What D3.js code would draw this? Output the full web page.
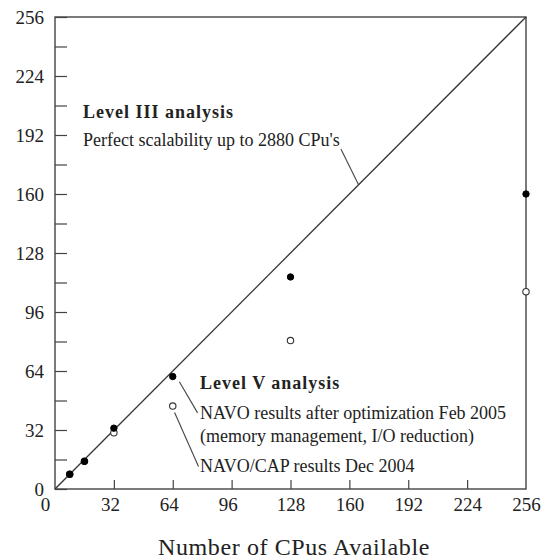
<!DOCTYPE html>
<html><head><meta charset="utf-8">
<script src="https://cdn.jsdelivr.net/npm/d3@7"></script>
<style>body{margin:0;background:#fff}</style>
</head><body>
<script>
const cpus = [8, 16, 32, 64, 128, 256];
const optimizedFeb2005 = [8, 15, 33, 61, 115, 160];
const capDec2004 = [8, 15, 30.5, 45, 80.5, 107];
const xTicks = [0, 32, 64, 96, 128, 160, 192, 224, 256];
const yTicks = [0, 32, 64, 96, 128, 160, 192, 224, 256];
const yMinorTicks = [16, 48, 80, 112, 144, 176, 208, 240];
const xTitle = "Number of CPus Available";

const W = 543, H = 560;
const svg = d3.select("body").append("svg").attr("width", W).attr("height", H);
const x = d3.scaleLinear().domain([0, 256]).range([55, 526]);
const y = d3.scaleLinear().domain([0, 256]).range([489, 17]);
const font = "'Liberation Serif', serif";
const ink = "#222";

// frame
svg.append("rect").attr("x", x(0)).attr("y", y(256)).attr("width", x(256) - x(0)).attr("height", y(0) - y(256))
  .attr("fill", "none").attr("stroke", "#444").attr("stroke-width", 1.4);

// y ticks
const gy = svg.append("g").attr("transform", `translate(${x(0)},0)`)
  .call(d3.axisRight(y).tickValues(yTicks.concat(yMinorTicks)).tickSize(12).tickFormat(""));
gy.select(".domain").remove();
gy.selectAll("line").attr("stroke", "#444").attr("stroke-width", 1.2);
const gyl = svg.append("g").attr("transform", `translate(${x(0)},0)`)
  .call(d3.axisLeft(y).tickValues(yTicks).tickSize(0).tickPadding(11));
gyl.select(".domain").remove();
gyl.selectAll("text").attr("font-family", font).attr("font-size", 19).attr("fill", ink);

// x ticks
const gx = svg.append("g").attr("transform", `translate(0,${y(0)})`)
  .call(d3.axisTop(x).tickValues(xTicks.slice(1, -1)).tickSize(9).tickFormat(""));
gx.select(".domain").remove();
gx.selectAll("line").attr("stroke", "#444").attr("stroke-width", 1.2);
const gxl = svg.append("g").attr("transform", `translate(0,${y(0)})`)
  .call(d3.axisBottom(x).tickValues(xTicks).tickSize(0).tickPadding(9));
gxl.select(".domain").remove();
gxl.selectAll("text").attr("font-family", font).attr("font-size", 19).attr("fill", ink)
  .attr("dx", d => d === 0 ? -10 : (d < 128 ? -4 : 0));

// axis title
svg.append("text").attr("x", 294).attr("y", 555).attr("text-anchor", "middle")
  .attr("font-family", font).attr("font-size", 24).attr("letter-spacing", 0.6).attr("fill", ink).text(xTitle);

// perfect scalability line
const line = d3.line().x(d => x(d)).y(d => y(d));
svg.append("path").attr("d", line([0, 256])).attr("fill", "none").attr("stroke", "#333").attr("stroke-width", 1.3);

// leader lines
const leaders = [
  [[155.4, 184.4], [165, 165]],
  [[67.6, 58.2], [77.5, 41.3]],
  [[65, 41.5], [78, 12.2]]
];
leaders.forEach(l => svg.append("path").attr("d", d3.line().x(d => x(d[0])).y(d => y(d[1]))(l))
  .attr("fill", "none").attr("stroke", "#444").attr("stroke-width", 1.1));

// markers
const pts = cpus.map((c, i) => ({c, a: optimizedFeb2005[i], b: capDec2004[i]}));
svg.append("g").selectAll("circle").data(pts).join("circle")
  .attr("cx", d => x(d.c)).attr("cy", d => y(d.b)).attr("r", 3.2)
  .attr("fill", "#fff").attr("stroke", "#333").attr("stroke-width", 1.1);
svg.append("g").selectAll("circle").data(pts).join("circle")
  .attr("cx", d => x(d.c)).attr("cy", d => y(d.a)).attr("r", 3.2)
  .attr("fill", "#000").attr("stroke", "#000").attr("stroke-width", 1);

// annotations
const notes = [
  {t: "Level III analysis", x: 83, y: 118, b: true},
  {t: "Perfect scalability up to 2880 CPu's", x: 83, y: 146},
  {t: "Level V analysis", x: 200, y: 389, b: true},
  {t: "NAVO results after optimization Feb 2005", x: 200, y: 419},
  {t: "(memory management, I/O reduction)", x: 200, y: 442},
  {t: "NAVO/CAP results Dec 2004", x: 200, y: 472}
];
svg.append("g").selectAll("text").data(notes).join("text")
  .attr("x", d => d.x).attr("y", d => d.y)
  .attr("font-family", font).attr("font-size", 18)
  .attr("font-weight", d => d.b ? "bold" : "normal")
  .attr("letter-spacing", d => d.b ? 1 : 0)
  .attr("fill", ink).text(d => d.t);
</script>
</body></html>
